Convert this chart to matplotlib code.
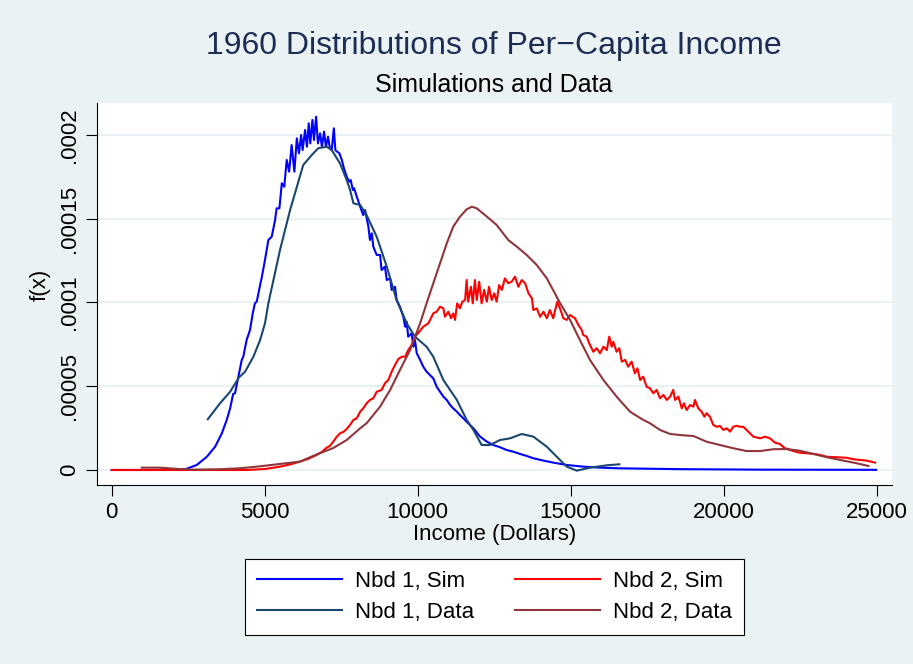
import numpy as np
import matplotlib
matplotlib.use('Agg')
import matplotlib.pyplot as plt

plt.rcParams['font.family'] = ['Liberation Sans', 'DejaVu Sans']

# densities are given per 100,000 (i.e. value * 1e-5)
nbd1_sim_x = [0, 1250, 1900, 2400, 2780, 3110, 3380, 3600, 3760, 3870,
              3970, 4030, 4140, 4250, 4300, 4410, 4520, 4610, 4680, 4740,
              4850, 4900, 5010, 5120, 5230, 5340, 5390, 5480, 5560, 5640,
              5720, 5800, 5880, 5970, 6050, 6120, 6190, 6240, 6320, 6380,
              6440, 6490, 6560, 6610, 6680, 6740, 6810, 6870, 6940, 7000,
              7070, 7130, 7190, 7260, 7310, 7370, 7440, 7520, 7590, 7680,
              7760, 7810, 7880, 7920, 8010, 8120, 8220, 8280, 8390, 8440,
              8500, 8550, 8660, 8770, 8820, 8930, 8990, 9100, 9150, 9260,
              9310, 9420, 9530, 9590, 9640, 9690, 9800, 9860, 9910, 9970,
              10080, 10180, 10290, 10400, 10510, 10620, 10730, 10840, 10950, 11060,
              11160, 11280, 11380, 11490, 11600, 11820, 12040, 12260, 12470, 12690,
              12910, 13130, 13340, 13560, 13780, 14110, 14430, 14870, 15410, 15960,
              16610, 18570, 21190, 24980]
nbd1_sim_y = [0, 0, 0.02, 0.04, 0.30, 0.79, 1.39, 2.19, 2.99, 3.68,
              4.54, 4.58, 5.57, 6.57, 6.76, 7.76, 8.36, 9.35, 9.95, 10.05,
              11.04, 11.46, 12.54, 13.73, 13.93, 14.93, 15.62, 15.62, 17.12, 16.91,
              18.51, 17.81, 19.40, 17.81, 19.80, 18.91, 20.00, 19.10, 20.30, 19.30,
              20.70, 19.50, 20.90, 19.70, 21.09, 19.50, 20.10, 19.30, 20.20, 19.30,
              19.90, 19.21, 19.10, 20.40, 19.10, 19.00, 18.91, 18.51, 18.01, 17.51,
              17.21, 17.31, 16.72, 16.82, 16.32, 15.72, 15.22, 15.52, 14.52, 13.73,
              14.13, 13.33, 12.84, 12.84, 11.94, 12.14, 11.34, 11.44, 10.75, 10.94,
              10.15, 9.75, 9.15, 8.55, 8.85, 7.96, 8.16, 7.36, 7.76, 6.97,
              6.57, 6.17, 5.87, 5.67, 5.47, 4.97, 4.67, 4.38, 4.18, 3.88,
              3.68, 3.48, 3.28, 3.09, 2.88, 2.49, 1.99, 1.69, 1.49, 1.36,
              1.19, 1.09, 0.96, 0.84, 0.70, 0.56, 0.44, 0.30, 0.20, 0.14,
              0.10, 0.05, 0.02, 0.01]

nbd1_dat_x = [3140, 3540, 3870, 4160, 4360, 4630, 4850, 5010, 5120, 5230,
              5500, 5830, 6260, 6540, 6750, 7030, 7190, 7460, 7680, 7790,
              7900, 8120, 8330, 8660, 8990, 9310, 9640, 9910, 10290, 10510,
              10840, 11280, 11600, 11820, 12090, 12360, 12690, 13020, 13400, 13780,
              14220, 14650, 14870, 15200, 15630, 16180, 16590]
nbd1_dat_y = [3.03, 3.98, 4.67, 5.53, 5.87, 6.76, 7.76, 8.76, 9.95, 10.87,
              13.13, 15.52, 18.21, 18.81, 19.21, 19.30, 19.10, 18.31, 17.31, 16.72,
              15.92, 15.82, 15.22, 13.93, 12.14, 10.15, 8.76, 7.96, 7.36, 6.76,
              5.37, 4.18, 2.99, 2.39, 1.49, 1.49, 1.79, 1.89, 2.15, 1.99,
              1.39, 0.60, 0.20, -0.04, 0.14, 0.28, 0.34]

nbd2_sim_x = [0, 2230, 3870, 4410, 5010, 5500, 5830, 6150, 6420, 6700,
              6860, 7030, 7130, 7240, 7350, 7460, 7570, 7680, 7790, 7900,
              8010, 8120, 8220, 8330, 8440, 8550, 8660, 8820, 8930, 9040,
              9150, 9260, 9370, 9480, 9590, 9690, 9800, 9910, 10020, 10180,
              10350, 10510, 10620, 10730, 10840, 10890, 11000, 11090, 11160, 11220,
              11290, 11380, 11460, 11550, 11600, 11650, 11740, 11800, 11870, 11930,
              12010, 12090, 12170, 12260, 12330, 12420, 12500, 12580, 12660, 12750,
              12850, 12960, 13070, 13180, 13290, 13400, 13510, 13620, 13730, 13780,
              13890, 14000, 14110, 14220, 14320, 14430, 14560, 14650, 14760, 14870,
              14980, 15140, 15250, 15360, 15410, 15520, 15630, 15740, 15850, 15960,
              16070, 16180, 16260, 16340, 16390, 16500, 16590, 16670, 16780, 16880,
              16990, 17100, 17180, 17270, 17370, 17480, 17590, 17700, 17810, 17920,
              18030, 18140, 18250, 18350, 18410, 18520, 18630, 18700, 18790, 18900,
              19010, 19060, 19170, 19280, 19370, 19440, 19550, 19660, 19770, 19880,
              19990, 20100, 20210, 20310, 20430, 20530, 20640, 20800, 20970, 21190,
              21350, 21510, 21680, 21840, 22000, 22280, 22490, 22710, 22930, 23150,
              23370, 23690, 24020, 24240, 24450, 24670, 24950]
nbd2_sim_y = [0, 0, 0, 0, 0.06, 0.20, 0.33, 0.50, 0.66, 0.90,
              1.07, 1.34, 1.43, 1.69, 1.97, 2.19, 2.27, 2.45, 2.69, 2.99,
              3.09, 3.48, 3.68, 3.98, 4.18, 4.28, 4.67, 4.78, 5.18, 5.37,
              5.87, 6.27, 6.63, 6.76, 6.76, 7.16, 7.46, 7.96, 8.18, 8.55,
              8.76, 9.35, 9.45, 9.75, 9.65, 9.15, 9.45, 9.06, 9.35, 8.96,
              9.95, 9.65, 10.05, 10.15, 11.34, 10.05, 10.94, 9.95, 11.34, 10.15,
              11.24, 9.95, 10.75, 10.05, 10.94, 10.15, 10.55, 10.05, 11.04, 10.75,
              11.44, 11.15, 11.24, 11.54, 10.94, 11.34, 11.15, 10.55, 10.25, 9.55,
              9.65, 9.15, 9.45, 9.06, 9.55, 9.06, 10.05, 9.65, 9.06, 8.96,
              9.25, 9.06, 8.66, 8.36, 8.06, 7.96, 7.46, 7.06, 7.27, 6.97,
              7.36, 7.16, 7.96, 7.36, 7.66, 7.06, 7.27, 6.47, 6.57, 6.17,
              6.47, 5.77, 6.07, 5.37, 5.57, 4.97, 4.88, 4.58, 4.78, 4.28,
              4.48, 4.18, 4.38, 4.78, 4.18, 4.38, 3.68, 3.98, 3.58, 3.88,
              3.78, 4.18, 3.68, 3.48, 3.18, 3.39, 3.18, 2.69, 2.58, 2.63,
              2.39, 2.49, 2.29, 2.58, 2.64, 2.58, 2.58, 2.29, 1.99, 1.89,
              1.99, 1.89, 1.63, 1.55, 1.30, 1.13, 1.03, 1.00, 0.96, 0.90,
              0.79, 0.76, 0.73, 0.64, 0.60, 0.56, 0.44]

nbd2_dat_x = [980, 1580, 2120, 2670, 3430, 4190, 4850, 5500, 6150, 6700,
              7240, 7680, 8120, 8330, 8770, 9100, 9420, 9750, 10080, 10290,
              10510, 10730, 10950, 11160, 11380, 11600, 11770, 11930, 12200, 12580,
              12960, 13240, 13560, 13890, 14220, 14540, 14650, 14980, 15300, 15630,
              16070, 16500, 16940, 17370, 17590, 17920, 18250, 18680, 19010, 19440,
              19880, 20310, 20750, 21190, 21620, 22060, 22490, 22930, 23370, 23910,
              24350, 24730]
nbd2_dat_y = [0.14, 0.14, 0.07, 0.02, 0.04, 0.10, 0.22, 0.36, 0.50, 0.93,
              1.31, 1.79, 2.49, 2.79, 3.78, 4.78, 5.97, 7.16, 8.76, 9.95,
              11.15, 12.34, 13.53, 14.52, 15.12, 15.56, 15.72, 15.62, 15.22, 14.63,
              13.73, 13.33, 12.84, 12.24, 11.44, 10.35, 9.97, 8.96, 7.76, 6.57,
              5.37, 4.38, 3.48, 2.99, 2.79, 2.39, 2.15, 2.07, 2.03, 1.69,
              1.49, 1.30, 1.13, 1.13, 1.24, 1.25, 1.15, 0.96, 0.76, 0.56,
              0.40, 0.24]

xticks = [0, 5000, 10000, 15000, 20000, 25000]
yticks = [0, 0.00005, 0.0001, 0.00015, 0.0002]
ytick_labels = ['0', '.00005', '.0001', '.00015', '.0002']

bg = '#EAF2F3'
W, H = 913, 664
fig = plt.figure(figsize=(W / 100, H / 100), dpi=100, facecolor=bg)
ax = fig.add_axes([97 / W, 1 - 485 / H, (892 - 97) / W, (485 - 103) / H])
ax.set_facecolor('white')

scale = 1e-5
ax.plot(nbd1_sim_x, np.array(nbd1_sim_y) * scale, color='#0000FF', lw=1.5, label='Nbd 1, Sim')
ax.plot(nbd1_dat_x, np.array(nbd1_dat_y) * scale, color='#1A476F', lw=1.5, label='Nbd 1, Data')
ax.plot(nbd2_sim_x, np.array(nbd2_sim_y) * scale, color='#FF0000', lw=1.5, label='Nbd 2, Sim')
ax.plot(nbd2_dat_x, np.array(nbd2_dat_y) * scale, color='#90353B', lw=1.5, label='Nbd 2, Data')

ax.set_xlim(-480, 25500)
ax.set_ylim(-8.96e-6, 0.0002191)
ax.set_xticks(xticks)
ax.set_xticklabels([str(t) for t in xticks])
ax.set_yticks(yticks)
ax.set_yticklabels(ytick_labels, rotation=90, va='center')
ax.grid(axis='y', color=bg, lw=1.5)
ax.set_axisbelow(True)
for s in ['top', 'right']:
    ax.spines[s].set_visible(False)
for s in ['left', 'bottom']:
    ax.spines[s].set_color('black')
    ax.spines[s].set_linewidth(0.8)
ax.tick_params(axis='both', length=8, width=0.8, labelsize=16, pad=4)

ax.set_xlabel('Income (Dollars)', fontsize=16, labelpad=1)
ax.set_ylabel('f(x)', fontsize=16)
ax.yaxis.set_label_coords(-0.058, 0.524)

fig.text(494 / W, 1 - 46 / H, '1960 Distributions of Per\u2212Capita Income',
         ha='center', va='center', fontsize=23, color='#1E2D55')
fig.text(494 / W, 1 - 85 / H, 'Simulations and Data', ha='center', va='center',
         fontsize=18, color='black')

leg = fig.legend(loc='center', bbox_to_anchor=(494.5 / W, 1 - 597 / H), ncol=2,
                 fontsize=16, frameon=True, fancybox=False, edgecolor='black',
                 framealpha=1, handlelength=3.8, handletextpad=0.6,
                 columnspacing=1.85, labelspacing=0.45, borderpad=0.55)
leg.get_frame().set_linewidth(0.8)

fig.savefig('out.png', dpi=100, facecolor=bg)
